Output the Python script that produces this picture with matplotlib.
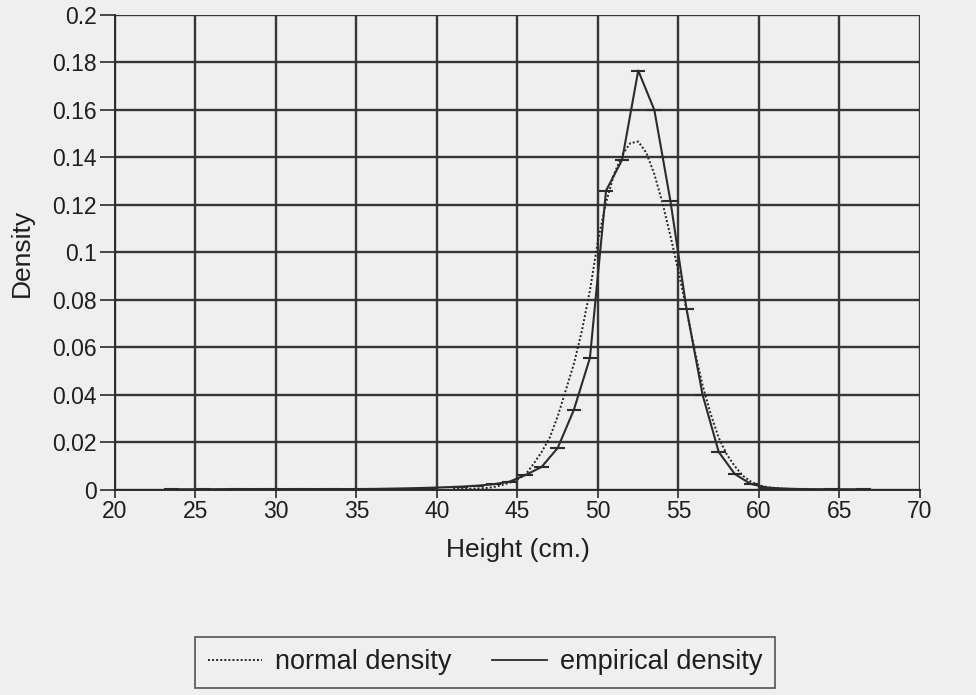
import numpy as np
import matplotlib.pyplot as plt
from matplotlib.ticker import FuncFormatter

plt.rcParams['font.family'] = ['Liberation Sans', 'DejaVu Sans']

# empirical density of height, read at the bin midpoints
emp_height = [23.5, 25.5, 27.5, 29.5, 31.5, 33.5, 35.5, 37.5, 39.5, 41.5, 42.5, 43.5, 44.5,
              45.5, 46.5, 47.5, 48.5, 49.5, 50.5, 51.5, 52.5, 53.5, 54.5, 55.5, 56.5,
              57.5, 58.5, 59.5, 60.5, 61.5, 62.5, 64.5, 66.5]
emp_density = [0.0003, 0.0003, 0.0004, 0.0004, 0.0004, 0.0004, 0.0004, 0.0006, 0.0009, 0.0014,
               0.0018, 0.0024, 0.0035, 0.0063, 0.0097, 0.0177, 0.0337, 0.0556, 0.126, 0.139,
               0.1766, 0.160, 0.1217, 0.0762, 0.040, 0.016, 0.0067, 0.0025, 0.0010, 0.0006,
               0.0004, 0.0003, 0.0003]

# fitted normal density
norm_height = [41.0, 42.0, 43.0, 43.5, 44.0, 44.5, 45.0, 45.5, 46.0, 46.5, 47.0, 47.5, 48.0,
               48.5, 49.0, 49.5, 50.0, 50.5, 51.0, 51.5, 52.0, 52.5, 53.0, 53.5, 54.0,
               54.5, 55.0, 55.5, 56.0, 56.5, 57.0, 57.5, 58.0, 58.5, 59.0, 59.5, 60.0,
               60.5, 61.0, 62.0, 63.0]
norm_density = [0.0004, 0.0005, 0.0008, 0.0012, 0.002, 0.003, 0.0045, 0.0065, 0.011, 0.016,
                0.022, 0.031, 0.042, 0.053, 0.067, 0.084, 0.105, 0.121, 0.133, 0.141,
                0.146, 0.1467, 0.142, 0.133, 0.121, 0.107, 0.092, 0.076, 0.059, 0.044,
                0.032, 0.022, 0.015, 0.010, 0.006, 0.0035, 0.002, 0.0012, 0.0007, 0.0004,
                0.0002]

paper = '#efefef'
ink = '#2b2b2b'
txt = '#1e1e1e'

fig = plt.figure(figsize=(9.76, 6.95), dpi=100, facecolor=paper)
ax = fig.add_axes([0.1178, 0.295, 0.8248, 0.6835], facecolor=paper)

ax.set_xlim(20, 70)
ax.set_ylim(0, 0.2)
ax.set_xticks(np.arange(20, 71, 5))
ax.set_yticks(np.arange(0, 0.201, 0.02))
ax.yaxis.set_major_formatter(FuncFormatter(lambda v, p: '%g' % round(v, 2)))

ax.grid(True, color='#363636', linewidth=1.7)
ax.set_axisbelow(True)
for side in ['top', 'right']:
    ax.spines[side].set_visible(False)
for side in ['left', 'bottom']:
    ax.spines[side].set_color(ink)
    ax.spines[side].set_linewidth(1.4)
ax.tick_params(direction='out', width=1.2, color=ink, labelsize=16.5, labelcolor=txt)
ax.tick_params(axis='x', length=6, pad=1)
ax.tick_params(axis='y', length=11, pad=2)

h_norm, = ax.plot(norm_height, norm_density, color='#222222', linewidth=1.4,
                  linestyle=(0, (1, 1.1)), label='normal density')
ax.errorbar(emp_height, emp_density, xerr=0.45, color=ink, linewidth=1.5,
            elinewidth=1.5, capsize=0)
h_emp, = ax.plot([], [], color=ink, linewidth=1.3, label='empirical density')

ax.set_xlabel('Height (cm.)', fontsize=19, color=txt, labelpad=11)
ax.set_ylabel('Density', fontsize=19, color=txt, labelpad=13)

leg = fig.legend(handles=[h_norm, h_emp], loc='center', bbox_to_anchor=(0.497, 0.047),
                 ncol=2, fontsize=19.5, frameon=True, fancybox=False, handlelength=2.0,
                 columnspacing=1.5, borderpad=0.45, handletextpad=0.5)
leg.get_frame().set_edgecolor(ink)
leg.get_frame().set_facecolor(paper)
leg.get_frame().set_linewidth(1.2)
for t in leg.get_texts():
    t.set_color(txt)

fig.savefig('out.png', dpi=100, facecolor=paper)
